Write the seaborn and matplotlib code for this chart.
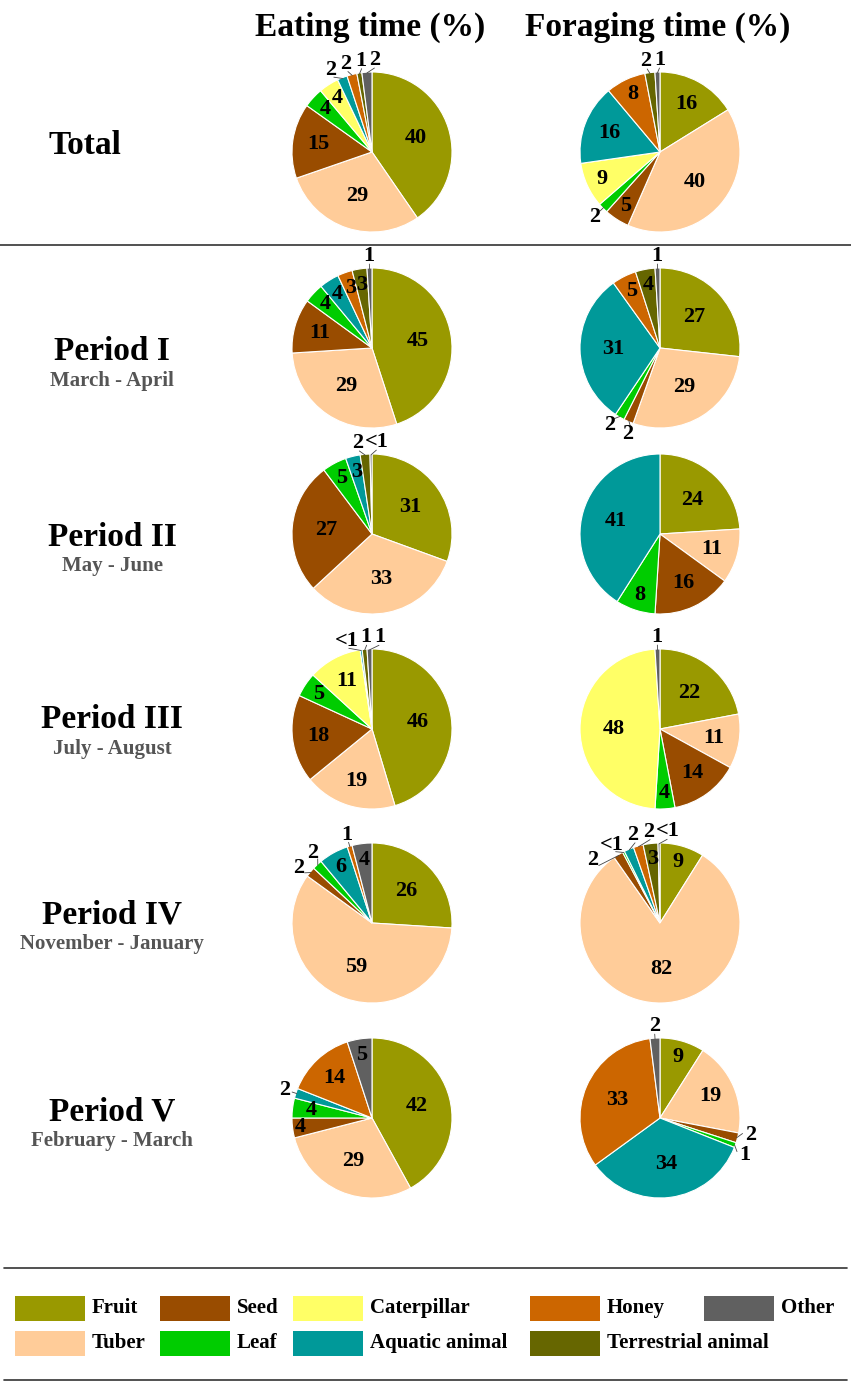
import numpy as np
import matplotlib
matplotlib.use("Agg")
import matplotlib.pyplot as plt
from matplotlib.patches import Rectangle
import seaborn as sns

categories = ["Fruit", "Tuber", "Seed", "Leaf", "Caterpillar",
              "Aquatic animal", "Honey", "Terrestrial animal", "Other"]
cat_colors = ["#999900", "#FFCC99", "#994C00", "#00CC00", "#FFFF66",
              "#009999", "#CC6600", "#666600", "#606060"]

# share (%) per category, same order as above; 0.4 stands for "<1"
total_eating = [40, 29, 15, 4, 4, 2, 2, 1, 2]
total_foraging = [16, 40, 5, 2, 9, 16, 8, 2, 1]
p1_eating = [45, 29, 11, 4, 0, 4, 3, 3, 1]
p1_foraging = [27, 29, 2, 2, 0, 31, 5, 4, 1]
p2_eating = [31, 33, 27, 5, 0, 3, 0, 2, 0.4]
p2_foraging = [24, 11, 16, 8, 0, 41, 0, 0, 0]
p3_eating = [46, 19, 18, 5, 11, 0.4, 0, 1, 1]
p3_foraging = [22, 11, 14, 4, 48, 0, 0, 0, 1]
p4_eating = [26, 59, 2, 2, 0, 6, 1, 0, 4]
p4_foraging = [9, 82, 2, 0.4, 0, 2, 2, 3, 0.4]
p5_eating = [42, 29, 4, 4, 0, 2, 14, 0, 5]
p5_foraging = [9, 19, 2, 1, 0, 34, 33, 0, 2]

row_titles = ["Total", "Period I", "Period II", "Period III", "Period IV", "Period V"]
row_months = ["", "March - April", "May - June", "July - August",
              "November - January", "February - March"]
col_titles = ["Eating time (%)", "Foraging time (%)"]

eating = [total_eating, p1_eating, p2_eating, p3_eating, p4_eating, p5_eating]
foraging = [total_foraging, p1_foraging, p2_foraging, p3_foraging, p4_foraging, p5_foraging]

sns.set_theme(style="white")
plt.rcParams["font.family"] = ["Liberation Serif", "DejaVu Serif"]
plt.rcParams["font.weight"] = "bold"

W, H = 851, 1385
fig = plt.figure(figsize=(W / 100, H / 100), dpi=100)

# background axes in pixel coordinates for titles, rules and legend
bg = fig.add_axes([0, 0, 1, 1])
bg.set_xlim(0, W)
bg.set_ylim(H, 0)
bg.axis("off")

col_x = [372, 660]
row_y = [152, 348, 534, 729, 923, 1118]
title_y = [145, 352, 537, 720, 915, 1112]
R = 80  # pie radius in px
PAD = 1.35
LBL_R = 1.15
NUM_SIZE = 16


def fmt(v):
    return "<1" if v < 1 else str(int(round(v)))


def text_w(s):
    return 11.0 * len(s)


def need_gap(a_deg, sa, sb):
    # angular distance (deg) so two outside labels don't touch
    a = np.deg2rad(a_deg)
    px = abs(np.sin(a)) * (text_w(sa) + text_w(sb)) / 2 + abs(np.cos(a)) * 16 + 2
    return np.rad2deg(px / (LBL_R * R))


def spread(angles, labels):
    order = list(np.argsort(angles))
    clusters = [[i] for i in order]

    def place(c):
        offs = [0.0]
        for a, b in zip(c[:-1], c[1:]):
            offs.append(offs[-1] + need_gap(angles[a], labels[a], labels[b]))
        offs = np.array(offs)
        start = np.mean([angles[k] for k in c]) - offs.mean()
        return start + offs

    changed = True
    while changed:
        changed = False
        pos = [place(c) for c in clusters]
        for i in range(len(clusters) - 1):
            a, b = clusters[i][-1], clusters[i + 1][0]
            if pos[i + 1][0] - pos[i][-1] < need_gap(angles[a], labels[a], labels[b]):
                clusters[i] = clusters[i] + clusters.pop(i + 1)
                changed = True
                break
    out = np.empty(len(angles))
    for c in clusters:
        for k, p in zip(c, place(c)):
            out[k] = p
    return out


def draw_pie(ax, values):
    vals = [v for v in values if v > 0]
    cols = [c for v, c in zip(values, cat_colors) if v > 0]
    wedges, _ = ax.pie(vals, colors=cols, startangle=90, counterclock=False,
                       wedgeprops=dict(edgecolor="white", linewidth=0.8))
    inside, outside = [], []
    for w, v in zip(wedges, vals):
        mid = (w.theta1 + w.theta2) / 2
        if v >= 3:
            r = 0.58 if v >= 20 else (0.68 if v >= 10 else 0.8)
            inside.append([mid, r, fmt(v), v])
        else:
            outside.append((mid, fmt(v)))
    # two small neighbours stacked on top of each other: stagger them
    for a, b in zip(inside[:-1], inside[1:]):
        if a[3] < 10 and b[3] < 10:
            pa = a[1] * R * np.array([np.cos(np.deg2rad(a[0])), np.sin(np.deg2rad(a[0]))])
            pb = b[1] * R * np.array([np.cos(np.deg2rad(b[0])), np.sin(np.deg2rad(b[0]))])
            if abs(pa[0] - pb[0]) < 8 and abs(pa[1] - pb[1]) < 18:
                a[1] += 0.1
                b[1] -= 0.04
    for mid, r, s, _ in inside:
        a = np.deg2rad(mid)
        ax.text(r * np.cos(a), r * np.sin(a), s, ha="center", va="center",
                fontsize=NUM_SIZE, fontweight="bold", color="black")
    if outside:
        mids = [m for m, _ in outside]
        labs = [s for _, s in outside]
        new = spread(mids, labs)
        for m, s, na in zip(mids, labs, new):
            a0, a1 = np.deg2rad(m), np.deg2rad(na)
            ax.plot([0.99 * np.cos(a0), 1.05 * np.cos(a1)],
                    [0.99 * np.sin(a0), 1.05 * np.sin(a1)],
                    color="#444444", lw=0.6, clip_on=False)
            ax.text(LBL_R * np.cos(a1), LBL_R * np.sin(a1), s, ha="center",
                    va="center", fontsize=NUM_SIZE, fontweight="bold", color="black")
    ax.set_xlim(-PAD, PAD)
    ax.set_ylim(-PAD, PAD)
    ax.set_aspect("equal")
    ax.axis("off")


for j, data in enumerate([eating, foraging]):
    for i, vals in enumerate(data):
        cx, cy = col_x[j], row_y[i]
        half = R * PAD
        ax = fig.add_axes([(cx - half) / W, (H - cy - half) / H, 2 * half / W, 2 * half / H])
        draw_pie(ax, vals)

# column titles
for j, t in enumerate(col_titles):
    bg.text(col_x[j] - 2, 27, t, ha="center", va="center", fontsize=24,
            fontweight="bold", color="black")

# row titles
for i, t in enumerate(row_titles):
    x = 85 if i == 0 else 112
    bg.text(x, title_y[i], t, ha="center", va="center", fontsize=24,
            fontweight="bold", color="black")
    if row_months[i]:
        bg.text(x, title_y[i] + 29, row_months[i], ha="center", va="center",
                fontsize=15, fontweight="bold", color="#555555")

# rules
bg.plot([0, W], [245, 245], color="#333333", lw=1.2)
bg.plot([4, W - 4], [1268, 1268], color="#333333", lw=1.2)
bg.plot([4, W - 4], [1380, 1380], color="#333333", lw=1.2)

# legend: two rows, filled column by column
leg_x = [15, 160, 293, 530, 704]
leg_y = [1308, 1343]
for k, (name, c) in enumerate(zip(categories, cat_colors)):
    x, y = leg_x[k // 2], leg_y[k % 2]
    bg.add_patch(Rectangle((x, y - 12.5), 70, 25, facecolor=c, edgecolor="none"))
    bg.text(x + 77, y, name, ha="left", va="center", fontsize=15,
            fontweight="bold", color="black")

fig.savefig("out.png", dpi=100, facecolor="white")
